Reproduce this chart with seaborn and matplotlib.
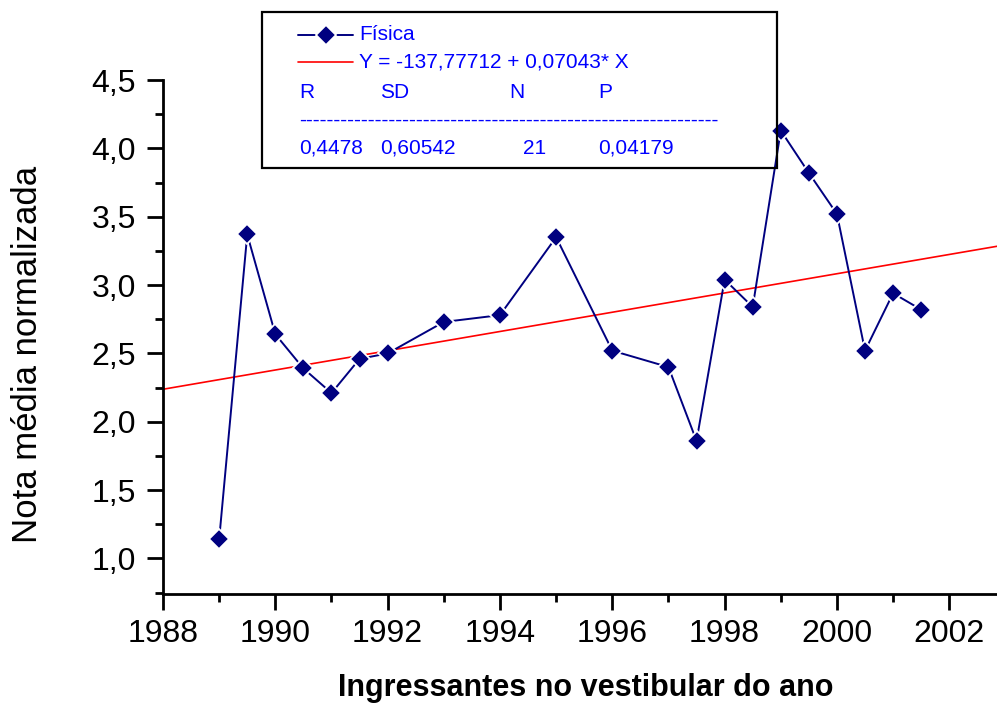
import numpy as np
import pandas as pd
import matplotlib
matplotlib.use("Agg")
import matplotlib.pyplot as plt
import seaborn as sns
from matplotlib.lines import Line2D
from matplotlib.patches import Rectangle
from matplotlib.ticker import MultipleLocator, FuncFormatter

# Mean normalized physics score per entrance-exam intake
years = [1989, 1989.5, 1990, 1990.5, 1991, 1991.5, 1992, 1993, 1994, 1995,
         1996, 1997, 1997.5, 1998, 1998.5, 1999, 1999.5, 2000, 2000.5, 2001, 2001.5]
scores = [1.14, 3.37, 2.64, 2.39, 2.21, 2.46, 2.50, 2.73, 2.78, 3.35,
          2.52, 2.40, 1.86, 3.04, 2.84, 4.13, 3.82, 3.52, 2.52, 2.94, 2.82]

# Linear fit reported in the legend box
fit_intercept = -137.77712
fit_slope = 0.07043
fit_stats_labels = ["R", "SD", "N", "P"]
fit_stats_values = ["0,4478", "0,60542", "21", "0,04179"]

series_name = "Física"
x_label = "Ingressantes no vestibular do ano"
y_label = "Nota média normalizada"

sns.set_theme(style="ticks")
plt.rcParams["font.family"] = ["Liberation Sans", "DejaVu Sans"]

NAVY = "#000080"
BLUE = "#0000ff"
RED = "#ff0000"
MARKER = dict(marker="D", markersize=10.3, markerfacecolor=NAVY,
              markeredgecolor="white", markeredgewidth=1.3)

fig = plt.figure(figsize=(9.97, 7.05), dpi=100)
ax = fig.add_axes([163 / 997, 111 / 705, 834 / 997, 514 / 705])

xmin, xmax = 1988, 2002.85
ymin, ymax = 0.74, 4.5

df = pd.DataFrame({"ano": years, "nota": scores})
fit_x = np.array([xmin, xmax])
fit_df = pd.DataFrame({"ano": fit_x, "nota": fit_intercept + fit_slope * fit_x})

sns.lineplot(data=fit_df, x="ano", y="nota", ax=ax, color=RED, linewidth=1.2, zorder=2)
sns.lineplot(data=df, x="ano", y="nota", ax=ax, color=NAVY, linewidth=1.4,
             zorder=3, **MARKER)

ax.set_xlim(xmin, xmax)
ax.set_ylim(ymin, ymax)

sns.despine(ax=ax)
for side in ("left", "bottom"):
    ax.spines[side].set_linewidth(2.0)
    ax.spines[side].set_color("black")

ax.xaxis.set_major_locator(MultipleLocator(2))
ax.xaxis.set_minor_locator(MultipleLocator(1))
ax.yaxis.set_major_locator(MultipleLocator(0.5))
ax.yaxis.set_minor_locator(MultipleLocator(0.25))
ax.yaxis.set_major_formatter(FuncFormatter(lambda v, p: f"{v:.1f}".replace(".", ",")))
ax.xaxis.set_major_formatter(FuncFormatter(lambda v, p: f"{int(round(v))}"))

ax.tick_params(which="major", direction="out", length=11.5, width=2.0,
               labelsize=23, colors="black")
ax.tick_params(which="minor", direction="out", length=5.8, width=2.0, colors="black")
ax.tick_params(axis="x", which="major", pad=6.5)
ax.tick_params(axis="y", which="major", pad=8)

ax.set_xlabel(x_label, fontsize=22, fontweight="bold", color="black")
ax.set_ylabel(y_label, fontsize=25, color="black")
ax.xaxis.set_label_coords(0.507, -0.183)
ax.xaxis.label.set_verticalalignment("center")
ax.yaxis.set_label_coords(-0.163, 0.467)
ax.yaxis.label.set_verticalalignment("center")

# Legend box with fit statistics, laid out in pixel positions of the figure
W, H = 997, 705


def fx(px):
    return px / W


def fy(py):
    return 1 - py / H


fig.add_artist(Rectangle((fx(262), fy(168)), fx(777) - fx(262), fy(12) - fy(168),
                         transform=fig.transFigure, fill=False,
                         edgecolor="black", linewidth=1.6))

fig.add_artist(Line2D([fx(298), fx(353)], [fy(35), fy(35)], transform=fig.transFigure,
                      color=NAVY, linewidth=1.4))
fig.add_artist(Line2D([fx(326)], [fy(35)], transform=fig.transFigure, linestyle="none",
                      **MARKER))
fig.add_artist(Line2D([fx(298), fx(353)], [fy(62), fy(62)], transform=fig.transFigure,
                      color=RED, linewidth=1.2))

fs = 15
fig.text(fx(359), fy(35), series_name, fontsize=fs, color=BLUE, va="center", ha="left")
fig.text(fx(359), fy(62), f"Y = {fit_intercept:.5f} + {fit_slope:.5f}* X".replace(".", ","),
         fontsize=fs, color=BLUE, va="center", ha="left")

stat_cols = [299, 380, 509, 598]
value_cols = [299, 380, 523, 598]
for lab, px in zip(fit_stats_labels, stat_cols):
    fig.text(fx(px), fy(92), lab, fontsize=fs, color=BLUE, va="center", ha="left")
fig.text(fx(299), fy(120), "-" * 61, fontsize=fs, color=BLUE, va="center", ha="left")
for val, px in zip(fit_stats_values, value_cols):
    fig.text(fx(px), fy(148), val, fontsize=fs, color=BLUE, va="center", ha="left")

fig.savefig("out.png", dpi=100, facecolor="white")
